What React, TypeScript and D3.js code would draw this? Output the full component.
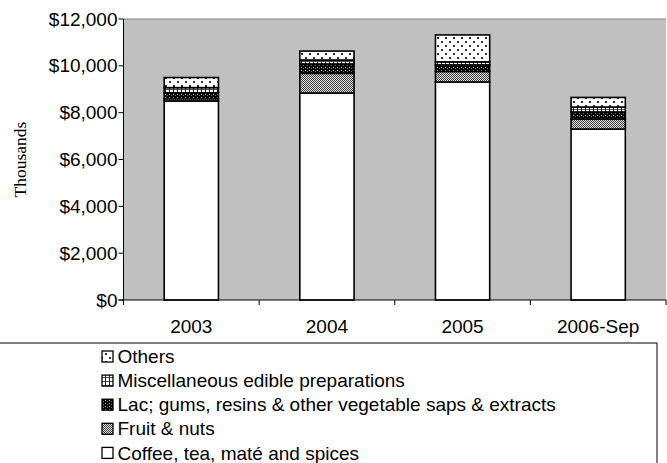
import React from "react";
import * as d3 from "d3";

const categories = ["2003", "2004", "2005", "2006-Sep"];
const coffee = [8500, 8840, 9310, 7300];
const fruit = [100, 840, 450, 430];
const lac = [250, 400, 280, 300];
const misc = [220, 170, 130, 210];
const others = [430, 380, 1150, 410];
const yTicks = [0, 2000, 4000, 6000, 8000, 10000, 12000];

const seriesNames = [
  "Coffee, tea, maté and spices",
  "Fruit & nuts",
  "Lac; gums, resins & other vegetable saps & extracts",
  "Miscellaneous edible preparations",
  "Others",
];
const seriesValues = [coffee, fruit, lac, misc, others];
const fills = ["#ffffff", "url(#pFruit)", "url(#pLac)", "url(#pMisc)", "url(#pOthers)"];

const W = 667;
const H = 463;
const left = 123.5;
const right = 666;
const top = 19;
const bottom = 300;

export default function App() {
  const x = d3.scaleBand<string>().domain(categories).range([left, right]).paddingInner(0.6).paddingOuter(0.3);
  const y = d3.scaleLinear().domain([0, 12000]).range([bottom, top]);
  const fmt = d3.format("$,");
  const step = x.step();

  const rows = categories.map((c, i) => {
    const o: any = { cat: c };
    seriesNames.forEach((s, k) => (o[s] = seriesValues[k][i]));
    return o;
  });
  const stacked = d3.stack().keys(seriesNames)(rows);

  const font = "'Liberation Sans', Arial, sans-serif";
  const fs = 19;
  const legendOrder = [4, 3, 2, 1, 0];

  return (
    <svg width={W} height={H} style={{ position: "absolute", left: 0, top: 0 }}>
      <defs>
        <pattern id="pFruit" width="2" height="2" patternUnits="userSpaceOnUse">
          <rect width="2" height="2" fill="#e0e0e0" />
          <rect width="1" height="1" fill="#404040" />
          <rect x="1" y="1" width="1" height="1" fill="#404040" />
        </pattern>
        <pattern id="pLac" width="4" height="3" patternUnits="userSpaceOnUse">
          <rect width="4" height="3" fill="#000" />
          <rect x="1" y="1" width="1" height="1" fill="#bbb" />
          <rect x="3" y="2" width="1" height="1" fill="#777" />
        </pattern>
        <pattern id="pMisc" width="4" height="4" patternUnits="userSpaceOnUse">
          <rect width="4" height="4" fill="#fff" />
          <rect x="0" y="1" width="4" height="1" fill="#555" />
          <rect x="1" y="0" width="1" height="4" fill="#222" />
        </pattern>
        <pattern id="pOthers" width="8" height="8" patternUnits="userSpaceOnUse">
          <rect width="8" height="8" fill="#fff" />
          <rect x="1" y="1" width="2" height="2" fill="#333" />
          <rect x="5" y="5" width="2" height="2" fill="#333" />
        </pattern>
      </defs>
      <rect x={left} y={top} width={right - left} height={bottom - top} fill="#c0c0c0" />
      <line x1={left} x2={right} y1={top} y2={top} stroke="#808080" strokeWidth={1} />

      {stacked.map((layer, k) =>
        layer.map((d, i) => (
          <rect
            key={`${k}-${i}`}
            x={x(categories[i])!}
            y={y(d[1])}
            width={x.bandwidth()}
            height={y(d[0]) - y(d[1])}
            fill={fills[k]}
            stroke="#000"
            strokeWidth={1.6}
          />
        ))
      )}

      <line x1={left} x2={left} y1={top} y2={bottom + 5} stroke="#000" />
      <line x1={left - 5} x2={right} y1={bottom} y2={bottom} stroke="#000" />
      {yTicks.map((t) => (
        <g key={t}>
          <line x1={left - 5} x2={left} y1={y(t)} y2={y(t)} stroke="#000" />
          <text x={left - 6} y={y(t)} dy="0.35em" textAnchor="end" fontFamily={font} fontSize={fs}>
            {fmt(t)}
          </text>
        </g>
      ))}
      {categories.map((c) => (
        <g key={c}>
          <line x1={x(c)! + x.bandwidth() + (step - x.bandwidth()) / 2} x2={x(c)! + x.bandwidth() + (step - x.bandwidth()) / 2} y1={bottom} y2={bottom + 5} stroke="#000" />
          <text x={x(c)! + x.bandwidth() / 2} y={333} textAnchor="middle" fontFamily={font} fontSize={fs}>
            {c}
          </text>
        </g>
      ))}
      <text
        transform={`translate(26,${(top + bottom) / 2}) rotate(-90)`}
        textAnchor="middle"
        fontFamily="'Liberation Serif', 'Times New Roman', serif"
        fontSize={17.5}
      >
        Thousands
      </text>

      <rect x={-1} y={343} width={658} height={140} fill="#fff" stroke="#000" strokeWidth={1} />
      {legendOrder.map((k, j) => {
        const cy = 356.5 + j * 24.1;
        return (
          <g key={k}>
            <rect x={102} y={cy - 5.5} width={11} height={11} fill={fills[k]} stroke="#000" strokeWidth={1.3} />
            <text x={117.5} y={cy} dy="0.35em" fontFamily={font} fontSize={fs}>
              {seriesNames[k]}
            </text>
          </g>
        );
      })}
    </svg>
  );
}
